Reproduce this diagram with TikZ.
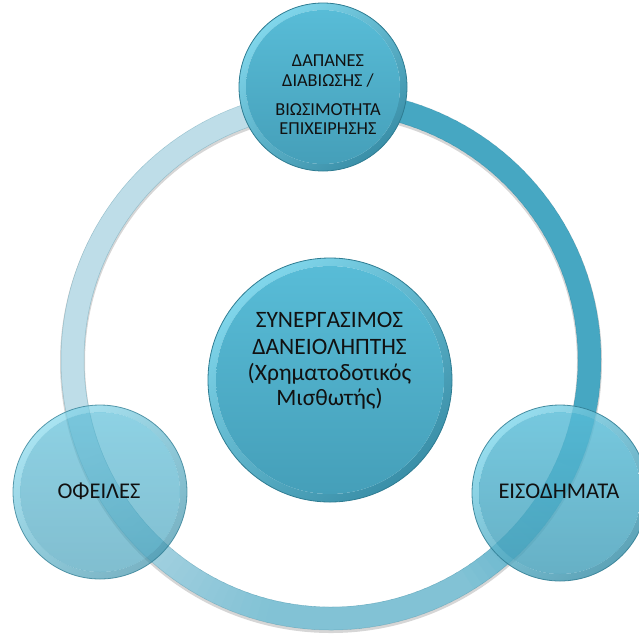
\documentclass[tikz,border=0pt]{standalone}
\usepackage{fontspec}
\setmainfont{Carlito}
\definecolor{ringL}{HTML}{BEDDE8}
\definecolor{ringR}{HTML}{46A7C2}
\definecolor{rimL}{HTML}{80D6EB}
\definecolor{rimD}{HTML}{3A8FA8}
\definecolor{inT}{HTML}{58BCD7}
\definecolor{inB}{HTML}{459FB9}
\definecolor{bordr}{HTML}{2E7C92}
\definecolor{txt}{HTML}{111111}
\tikzset{
  bub/.style={circle, draw=bordr, line width=0.8pt, inner sep=0pt},
  lbl/.style={anchor=base, inner sep=0pt, text=txt},
  rimshade/.style={even odd rule, top color=rimL, bottom color=rimD, shading angle=40},
  inshade/.style={top color=inT, bottom color=inB}
}
\begin{document}
\begin{tikzpicture}[x=1pt,y=-1pt]
\useasboundingbox (0,0) rectangle (639,633);
\coordinate (rc) at (331,360);
\coordinate (ctop) at (323,87);
\coordinate (cmid) at (330,380);
\coordinate (cleft) at (100,492);
\coordinate (cright) at (560,493);
% ring shadow
\fill[black, fill opacity=0.16, even odd rule] ([yshift=-2pt]rc) circle (271pt) ([yshift=-2pt]rc) circle (246pt);
% ring, coloured by angle (polar angles with units are screen angles)
\begin{scope}[shift={(rc)}]
\foreach \a in {90,92,...,448}{
  \pgfmathsetmacro{\p}{\a<=200 ? 0 : (\a<=255 ? (\a-200)/55*50 : (\a<=300 ? 50 : (\a<=335 ? 50+(\a-300)/35*50 : 100)))}
  \pgfmathsetmacro{\b}{\a+2.6}
  \fill[ringR!\p!ringL] (\a:270pt) arc[start angle=\a, end angle=\b, radius=270pt] -- (\b:247pt) arc[start angle=\b, end angle=\a, radius=247pt] -- cycle;
}
\end{scope}
\draw[bordr, draw opacity=0.3, line width=0.5pt] (rc) circle (270pt) (rc) circle (247pt);
% top bubble (opaque)
\shade[rimshade] (ctop) circle (84pt) (ctop) circle (77pt);
\shade[inshade] (ctop) circle (77pt);
\node[bub, minimum size=168pt] (top) at (ctop) {};
% centre bubble (opaque)
\shade[rimshade] (cmid) circle (122pt) (cmid) circle (114pt);
\shade[inshade] (cmid) circle (114pt);
\node[bub, minimum size=244pt] (mid) at (cmid) {};
% left bubble (translucent)
\begin{scope}[fill opacity=0.68, draw opacity=0.75]
\shade[rimshade] (cleft) circle (87pt) (cleft) circle (80pt);
\shade[inshade] (cleft) circle (80pt);
\node[bub, minimum size=174pt] (left) at (cleft) {};
\end{scope}
% right bubble (translucent)
\begin{scope}[fill opacity=0.82, draw opacity=0.85]
\shade[rimshade] (cright) circle (88pt) (cright) circle (81pt);
\shade[inshade] (cright) circle (81pt);
\node[bub, minimum size=176pt] (right) at (cright) {};
\end{scope}
% texts
\begin{scope}[font=\fontsize{18.3}{20}\selectfont]
\node[lbl] (t1) at (328,66.7) {ΔΑΠΑΝΕΣ};
\node[lbl] (t2) at (328,86.7) {ΔΙΑΒΙΩΣΗΣ /};
\node[lbl] (t3) at (328,115) {ΒΙΩΣΙΜΟΤΗΤΑ};
\node[lbl] (t4) at (328,134.5) {ΕΠΙΧΕΙΡΗΣΗΣ};
\end{scope}
\begin{scope}[font=\fontsize{23.5}{26}\selectfont]
\node[lbl] (m1) at (329.5,327.7) {ΣΥΝΕΡΓΑΣΙΜΟΣ};
\node[lbl] (m2) at (329.5,354) {ΔΑΝΕΙΟΛΗΠΤΗΣ};
\node[lbl] (m3) at (329.5,380) {(Χρηματοδοτικός};
\node[lbl] (m4) at (329.5,405) {Μισθωτής)};
\end{scope}
\begin{scope}[font=\fontsize{22.5}{26}\selectfont]
\node[lbl] (l1) at (99,498) {ΟΦΕΙΛΕΣ};
\node[lbl] (r1) at (559,498) {ΕΙΣΟΔΗΜΑΤΑ};
\end{scope}
\end{tikzpicture}
\end{document}
